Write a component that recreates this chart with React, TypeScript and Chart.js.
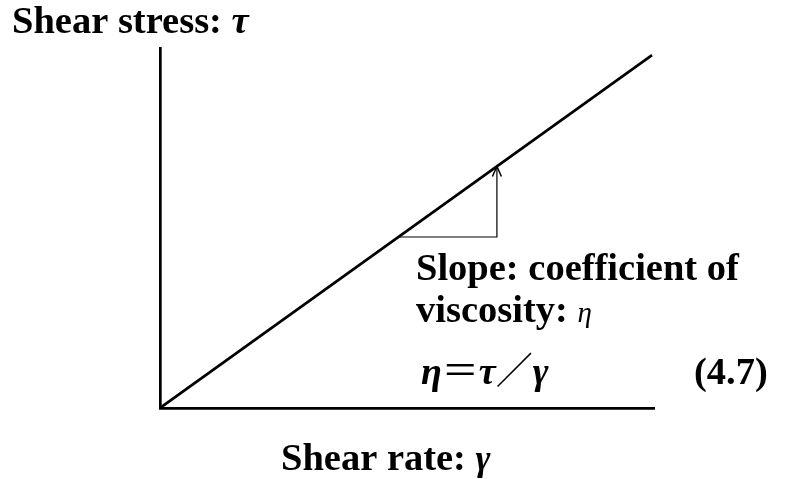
import React, { useEffect, useRef } from "react";
import { Chart, registerables } from "chart.js";

Chart.register(...registerables);

// Data (shear rate vs shear stress, arbitrary units 0..100)
const lineX = [0, 99.6];
const lineY = [0, 98];
const slopeTriX = [48.2, 68.2, 68.2];
const slopeTriY = [47.5, 47.5, 67.1];

const F = "'Liberation Serif'";
const yTitle = [
  { t: "Shear stress: ", f: `bold 38.5px ${F}` },
  { t: "τ", f: `italic bold 38.5px ${F}` },
];
const xTitle = [
  { t: "Shear rate: ", f: `bold 38.5px ${F}` },
  { t: "γ", f: `italic bold 36px ${F}` },
];
const note1 = [{ t: "Slope: coefficient of", f: `bold 38.5px ${F}` }];
const note2 = [
  { t: "viscosity: ", f: `bold 38.5px ${F}` },
  { t: "η", f: `italic 29px ${F}` },
];
const eq = [
  { t: "η", f: `italic bold 38px ${F}` },
  { t: "＝", f: "37px 'Noto Sans CJK JP'" },
  { t: "τ", f: `italic bold 38px ${F}` },
  { t: "／", f: "37px 'Noto Sans CJK JP'" },
  { t: "γ", f: `italic bold 38px ${F}` },
];
const eqNo = [{ t: "(4.7)", f: `bold 38.5px ${F}` }];

type Run = { t: string; f: string };

function drawRuns(ctx: CanvasRenderingContext2D, runs: Run[], x: number, y: number) {
  let cx = x;
  for (const r of runs) {
    ctx.font = r.f;
    ctx.fillText(r.t, cx, y);
    cx += ctx.measureText(r.t).width;
  }
}

const textPlugin = {
  id: "texts",
  afterDraw(chart: any) {
    const ctx = chart.ctx as CanvasRenderingContext2D;
    const xs = chart.scales.x;
    const ys = chart.scales.y;
    ctx.save();
    ctx.fillStyle = "#000";
    ctx.textBaseline = "alphabetic";
    ctx.textAlign = "left";
    drawRuns(ctx, yTitle, 12, 33);
    drawRuns(ctx, note1, 416, 280);
    drawRuns(ctx, note2, 416, 322);
    drawRuns(ctx, eq, 421, 384);
    drawRuns(ctx, eqNo, 694, 384);
    drawRuns(ctx, xTitle, 281, 470);
    // arrowhead at top of slope triangle vertical
    const px = xs.getPixelForValue(slopeTriX[2]);
    const py = ys.getPixelForValue(slopeTriY[2]);
    ctx.strokeStyle = "#000";
    ctx.lineWidth = 1.5;
    ctx.beginPath();
    ctx.moveTo(px - 4.5, py + 10);
    ctx.lineTo(px, py);
    ctx.lineTo(px + 4.5, py + 10);
    ctx.stroke();
    ctx.restore();
  },
};

export default function App() {
  const ref = useRef<HTMLCanvasElement | null>(null);
  useEffect(() => {
    if (!ref.current) return;
    const chart = new Chart(ref.current, {
      type: "scatter",
      data: {
        datasets: [
          {
            data: lineX.map((x, i) => ({ x, y: lineY[i] })),
            showLine: true,
            borderColor: "#000",
            borderWidth: 2.7,
            pointRadius: 0,
          },
          {
            data: slopeTriX.map((x, i) => ({ x, y: slopeTriY[i] })),
            showLine: true,
            borderColor: "#000",
            borderWidth: 1.2,
            pointRadius: 0,
          },
        ],
      },
      options: {
        animation: false,
        responsive: false,
        layout: { padding: { left: 152, top: 48, right: 133, bottom: 63 } },
        plugins: { legend: { display: false }, tooltip: { enabled: false } },
        scales: {
          x: {
            type: "linear",
            min: 0,
            max: 100,
            ticks: { display: false },
            grid: { display: false },
            border: { display: true, color: "#000", width: 2.7 },
          },
          y: {
            type: "linear",
            min: 0,
            max: 100,
            ticks: { display: false },
            grid: { display: false },
            border: { display: true, color: "#000", width: 2.7 },
          },
        },
      },
      plugins: [textPlugin],
    });
    return () => chart.destroy();
  }, []);
  return (
    <div style={{ position: "absolute", left: 0, top: 0, width: 787, height: 479, background: "#fff" }}>
      <canvas ref={ref} width={787} height={479} />
    </div>
  );
}
